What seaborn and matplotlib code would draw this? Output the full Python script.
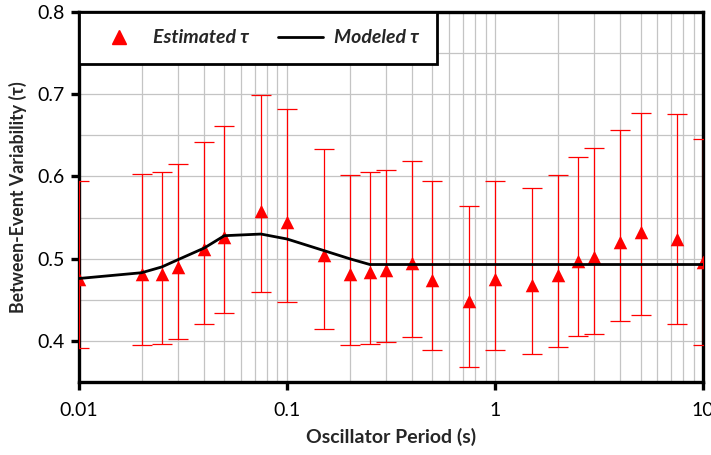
import numpy as np
import pandas as pd
import matplotlib
matplotlib.use("Agg")
import matplotlib.pyplot as plt
import seaborn as sns
from matplotlib.lines import Line2D
from matplotlib.ticker import LogLocator, FixedLocator, NullFormatter

periods = [0.01, 0.02, 0.025, 0.03, 0.04, 0.05, 0.075, 0.1, 0.15, 0.2, 0.25, 0.3,
           0.4, 0.5, 0.75, 1, 1.5, 2, 2.5, 3, 4, 5, 7.5, 10]
est_tau = [0.475, 0.482, 0.482, 0.490, 0.512, 0.527, 0.558, 0.545, 0.505, 0.482, 0.484, 0.486,
           0.495, 0.474, 0.449, 0.475, 0.468, 0.480, 0.497, 0.502, 0.520, 0.533, 0.524, 0.496]
upper = [0.595, 0.603, 0.605, 0.615, 0.642, 0.661, 0.699, 0.682, 0.633, 0.602, 0.606, 0.608,
         0.619, 0.594, 0.564, 0.594, 0.586, 0.602, 0.624, 0.634, 0.657, 0.677, 0.676, 0.646]
lower = [0.391, 0.395, 0.397, 0.403, 0.421, 0.434, 0.459, 0.448, 0.415, 0.395, 0.397, 0.399,
         0.405, 0.389, 0.369, 0.389, 0.384, 0.393, 0.406, 0.409, 0.424, 0.432, 0.421, 0.395]
model_tau = [0.476, 0.483, 0.490, 0.499, 0.513, 0.528, 0.530, 0.524, 0.510, 0.500, 0.493, 0.493,
             0.493, 0.493, 0.493, 0.493, 0.493, 0.493, 0.493, 0.493, 0.493, 0.493, 0.493, 0.493]

df = pd.DataFrame({"period": periods, "est": est_tau, "up": upper, "lo": lower, "model": model_tau})

sns.set_style("white")
plt.rcParams["font.family"] = ["Lato", "DejaVu Sans"]

fig = plt.figure(figsize=(7.11, 4.55), dpi=100)
ax = fig.add_axes([0.111, 0.160, 0.878, 0.814])

red = "#ff0000"
yerr = np.vstack([df["est"] - df["lo"], df["up"] - df["est"]])
ax.errorbar(df["period"], df["est"], yerr=yerr, fmt="none", ecolor=red,
            elinewidth=0.9, capsize=7.2, capthick=0.9, zorder=3)
sns.scatterplot(data=df, x="period", y="est", marker="^", s=95, color=red,
                edgecolor=red, linewidth=0, ax=ax, zorder=4, legend=False)
sns.lineplot(data=df, x="period", y="model", color="black", lw=2.0, ax=ax,
             zorder=5, legend=False)

ax.set_xscale("log")
ax.set_xlim(0.01, 10)
ax.set_ylim(0.35, 0.8)
ax.xaxis.set_major_locator(FixedLocator([0.01, 0.1, 1, 10]))
ax.set_xticklabels(["0.01", "0.1", "1", "10"])
ax.xaxis.set_minor_locator(LogLocator(base=10, subs=np.arange(2, 10)))
ax.xaxis.set_minor_formatter(NullFormatter())
ax.yaxis.set_major_locator(FixedLocator([0.4, 0.5, 0.6, 0.7, 0.8]))
ax.yaxis.set_minor_locator(FixedLocator([0.35, 0.45, 0.55, 0.65, 0.75]))
ax.set_yticklabels(["0.4", "0.5", "0.6", "0.7", "0.8"])

ax.grid(True, which="both", color="#c4c4c4", lw=0.9)
ax.set_axisbelow(True)

for s in ax.spines.values():
    s.set_linewidth(2.4)
    s.set_color("black")

ax.tick_params(axis="both", which="major", direction="out", length=5.5, width=2.4,
               labelsize=14, colors="black", bottom=True, left=True)
ax.tick_params(axis="x", which="major", pad=9)
ax.tick_params(axis="y", which="major", pad=5)
ax.tick_params(which="minor", length=0)

ax.set_xlabel("Oscillator Period (s)", fontsize=14, fontweight="bold", labelpad=6)
ax.set_ylabel("Between-Event Variability (τ)", fontsize=12.8, fontweight="bold", labelpad=7)

handles = [
    Line2D([], [], marker="^", color=red, linestyle="none", markersize=10),
    Line2D([], [], color="black", lw=2.0),
]
leg = ax.legend(handles, ["Estimated τ", "Modeled τ"], loc="upper left",
                bbox_to_anchor=(0.0, 1.0), borderaxespad=0, ncol=2, frameon=True,
                fancybox=False, prop={"weight": "bold", "style": "italic", "size": 14},
                handlelength=2.3, columnspacing=1.5, borderpad=0.9, handletextpad=0.6)
leg.get_frame().set_edgecolor("black")
leg.get_frame().set_linewidth(2.0)
leg.get_frame().set_alpha(1)
leg.set_zorder(10)

fig.savefig("out.png", dpi=100)
